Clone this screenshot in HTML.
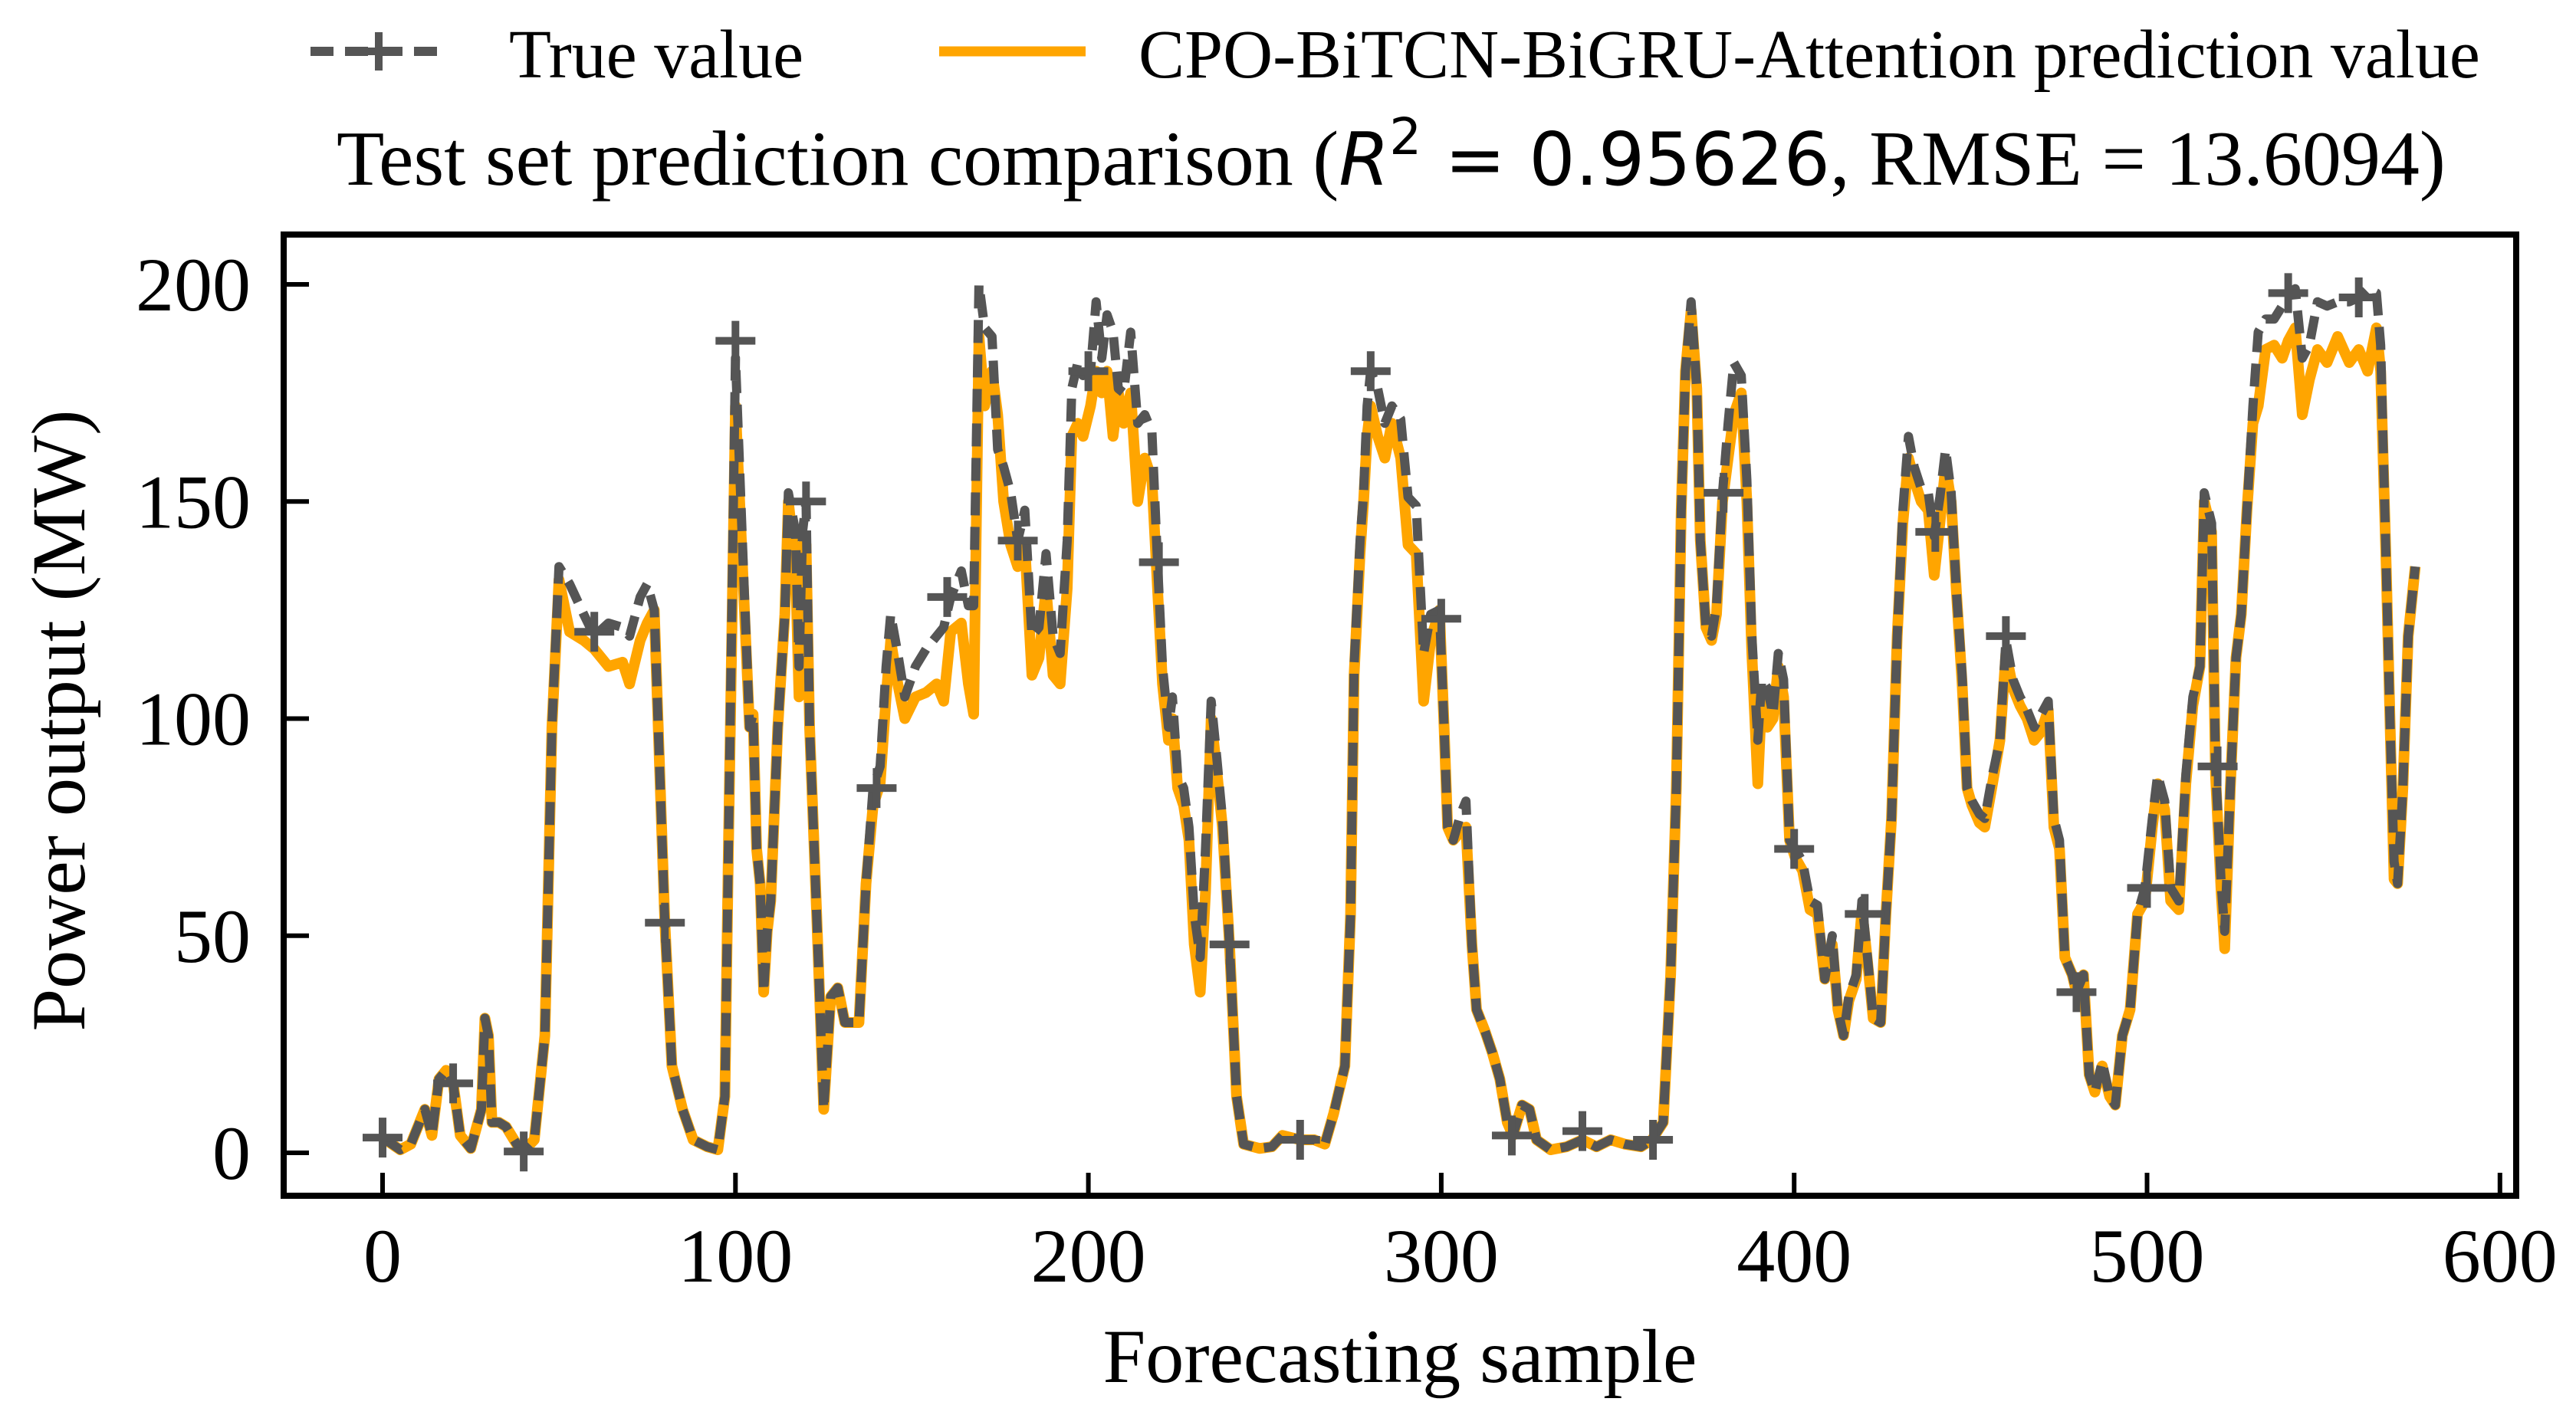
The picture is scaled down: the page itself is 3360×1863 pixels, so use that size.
<!DOCTYPE html>
<html><head><meta charset="utf-8"><style>
html,body{margin:0;padding:0;background:#fff;}
svg{display:block;}
text{font-family:"Liberation Serif","DejaVu Serif",serif;fill:#000;}
</style></head><body>
<svg id="chart" width="3360" height="1863" viewBox="0 0 3360 1863" xmlns="http://www.w3.org/2000/svg">
<g>
  <line x1="405" y1="67" x2="584" y2="67" stroke="#555" stroke-width="12" stroke-dasharray="30,15"/>
  <path d="M469 67h50M494 42v50" stroke="#555" stroke-width="10"/>
  <text x="664" y="101" font-size="90">True value</text>
  <line x1="1225" y1="67" x2="1416" y2="67" stroke="#FFA500" stroke-width="13"/>
  <text x="1485" y="101" font-size="90">CPO-BiTCN-BiGRU-Attention prediction value</text>
</g>
<text x="439" y="241" font-size="102">Test set prediction comparison (<tspan font-family="DejaVu Sans, sans-serif" font-style="italic" font-size="95">R</tspan><tspan font-family="DejaVu Sans, sans-serif" font-size="66" dy="-40">2</tspan><tspan font-family="DejaVu Sans, sans-serif" font-size="95" dy="40"> = 0.95626</tspan>, RMSE = 13.6094)</text>
<text transform="translate(110,940) rotate(-90)" text-anchor="middle" font-size="100">Power output (MW)</text>
<text x="1826" y="1803" text-anchor="middle" font-size="100">Forecasting sample</text>
<g id="plot"></g>
<rect x="370" y="306" width="2912" height="1254" fill="none" stroke="#000" stroke-width="8"/>
</svg>
<script>
const xTicks=[0,100,200,300,400,500,600];
const yTicks=[0,50,100,150,200];
const trueX=[0,5,8,12,14,16,18,20,22,25,28,29,30,31,33,35,38,40,43,46,48,50,53,57,60,64,68,70,73,75,77,80,82,85,88,92,95,97,98,100,102,104,105,106,107,108,109,110,112,114,115,117,118,119,120,121,123,125,127,129,131,133,135,137,139,141,142.7,144,146,148,151,154,157,159,161,164,166,167.5,169,170.6,172.7,174.3,176,178,180,182,184,186,188,190,192,194,195.3,197,198.5,200.6,202.2,203.8,205.3,207,208.5,210,212,214,216,218,219.6,221,222.7,223.8,225.3,227,228.5,230,231.7,233.2,234.8,236.4,238,240,242,244,248.5,252,255,260,264,267,269.5,272.7,274.3,275.3,277,278,279,280,282,284,286,288.5,290.6,292.9,295,297,299.5,300.8,301.8,303.4,305.5,307,308.7,310,312.4,314.5,316.6,318.7,320.3,322.9,325,327,331,335.5,340,344,348,352,356.6,359.7,362.9,365,366.6,368,369.2,370.8,372.4,373.4,375,376.6,378,379.7,381.3,382.9,385,386.6,388,389.7,390.8,392.4,394,395.5,397,398.7,400.3,402.4,404.5,406.6,408.7,410.8,412.4,414,415.5,417.6,419.2,420.8,422.4,424.5,426,427.6,429.2,430.8,432.4,434,436,438,439.7,441.3,442.9,444.5,446,447.6,449,450.4,452.5,454,456.2,458.3,460,462,464,466,468,470,472,473.6,475.2,476.7,478.8,480,482,483.6,485.2,487.3,489.4,491,493,495.2,497.3,499.4,501.5,503,505,506.7,509,511,513,515,516.2,518.3,519.4,521,522,523.6,525.2,526.7,528.3,530,531.5,533.6,536,538.3,540,542,544,546,548.3,551,554,557.3,560,562.5,565,566.2,567.8,568.9,570,571,572.5,574,576];
const trueY=[3.5,0.7,2,10,4,17,19,16,4,1,10,31,27,7,7,6,2,0.5,3,27,98,135,131,124,119,122,121,119,128,131,125,53,20,10,3,1.4,0.7,13,70,183,140,98,101,70,62,37,51,58,98,124,152,143,112,143,150,98,55,10,36,38,30,30,30,62,84,89,112,124,115,105,112,116,119,121,128,134,126,126,200,190,188,162,158,152,141,148,119,121,138,119,115,141,176,182,179,180,196,183,193,189,176,175,189,168,170,166,136,112,98,105,87,84,75,55,45,70,104,91,77,48,13,2,1,1.4,4,3,3,2,9,20,55,112,141,152,172,180,176,168,172,169,151,149,115,124,125,98,75,72,78,81,48,33,28,23,17,7,4,11,10,3,0.7,1.4,3,1.4,3,2,1.4,3,7,41,84,148,180,196,176,141,121,119,126,152,168,182,179,155,119,95,109,107,101,115,109,72,70,67,58,57,40,50,33,27,36,41,58,45,31,30,55,77,119,148,165,158,153,152,142,151,162,152,129,110,84,81,78,77,87,95,118,109,105,102,98,101,104,77,72,45,41,37,41,18,14,21,13,11,27,33,55,61,77,87,81,61,58,87,105,112,152,145,89,62,51,84,114,124,148,172,189,192,192,195,198,199,183,186,196,195,196,196,197,199,198,186,134,98,67,62,84,119,135];
const predY=[3.5,0.7,2,10,4,17,19,16,4,1,10,31,27,7,7,6,2,0.5,3,27,98,132,120,118,116,112,113,108,118,122,125,53,20,10,3,1.4,0.7,13,70,172,135,98,101,70,62,37,51,58,98,124,150,135,105,140,140,98,55,10,36,38,30,30,30,62,80,85,105,118,108,100,105,106,108,104,120,122,108,101,188,172,180,170,150,140,135,140,110,114,130,110,108,130,165,168,165,172,180,175,180,165,175,168,175,150,160,155,130,108,95,100,84,80,72,48,37,60,100,88,75,48,13,2,1,1.4,4,3,3,2,9,20,55,110,138,150,165,172,165,160,168,160,140,138,104,118,125,98,75,72,74,75,48,33,28,23,17,7,4,11,10,3,0.7,1.4,3,1.4,3,2,1.4,3,7,41,84,148,180,194,176,141,121,118,124,150,160,170,175,150,115,85,105,98,100,112,105,72,68,65,56,55,40,48,33,27,35,40,56,44,31,30,55,77,119,145,160,155,150,148,133,145,158,150,129,108,84,80,76,75,85,95,115,107,103,100,95,97,102,75,70,45,41,37,41,18,14,20,13,11,27,33,55,58,75,85,79,58,56,85,103,112,150,143,87,60,47,84,114,124,148,168,172,185,186,183,187,190,170,178,185,182,188,182,185,180,190,180,134,98,63,62,84,119,135];
const markerX=[0,20,40,60,80,100,120,140,160,180,200,220,240,260,280,300,320,340,360,380,400,420,440,460,480,500,520,540,560];
const markerY=[3.5,16,0.3,120,53,187,150,84,128,141,180,136,48,3,180,123,4,5,3,152,70,55,143,119,37,61,89,198,197];

const X0=499, XS=4.603, Y0=1504, YS=5.665;
function xs(v){return X0+v*XS;}
function ys(v){return Y0-v*YS;}
const NS='http://www.w3.org/2000/svg';
const plot=document.getElementById('plot');
function mk(tag,attrs){const e=document.createElementNS(NS,tag);for(const k in attrs)e.setAttribute(k,attrs[k]);return e;}

xTicks.forEach(t=>{
  const l=mk('line',{x1:xs(t),x2:xs(t),y1:1560,y2:1530,stroke:'#000','stroke-width':6});
  
  
  plot.appendChild(l);
  const tx=mk('text',{x:xs(t),y:1672,'text-anchor':'middle','font-size':100});
  
  
  tx.textContent=t;plot.appendChild(tx);
});
yTicks.forEach(t=>{
  const l=mk('line',{x1:370,x2:403,y1:ys(t),y2:ys(t),stroke:'#000','stroke-width':6});
  
  
  plot.appendChild(l);
  const tx=mk('text',{x:327,y:ys(t)+34,'text-anchor':'end','font-size':100});
  
  
  tx.textContent=t;plot.appendChild(tx);
});
function pathD(xa,ya){return xa.map((x,i)=>(i?'L':'M')+xs(x).toFixed(1)+' '+ys(ya[i]).toFixed(1)).join('');}
const pp=mk('path',{d:pathD(trueX,predY),fill:'none',stroke:'#FFA500','stroke-width':14,'stroke-linejoin':'round'});


plot.appendChild(pp);
const tp=mk('path',{d:pathD(trueX,trueY),fill:'none',stroke:'#555','stroke-width':12,'stroke-dasharray':'30,15','stroke-linejoin':'round'});


plot.appendChild(tp);
markerX.forEach((m,i)=>{
  const cx=xs(m),cy=ys(markerY[i]);
  const p=mk('path',{d:`M${cx-26} ${cy}h52M${cx} ${cy-26}v52`,stroke:'#555','stroke-width':10});
  
  
  plot.appendChild(p);
});
</script>
</body></html>
